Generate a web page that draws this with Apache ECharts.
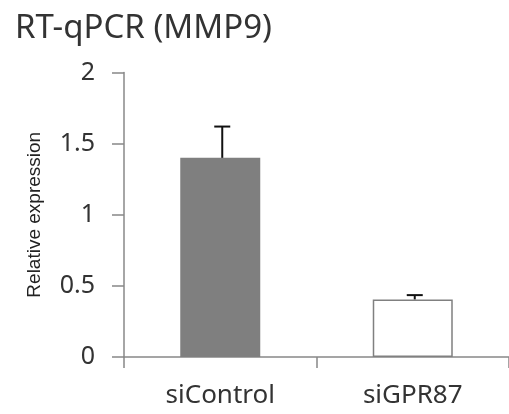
<!DOCTYPE html>
<html>
<head>
<meta charset="utf-8">
<script src="https://cdn.jsdelivr.net/npm/echarts@6/dist/echarts.min.js"></script>
<style>html,body{margin:0;padding:0;background:#fff}#c{width:509px;height:414px}</style>
</head>
<body>
<div id="c"></div>
<script>
const categories = ['siControl', 'siGPR87'];
const values = [1.4, 0.405];
const errors = [0.22, 0.03];
const yTickLabels = ['0', '0.5', '1', '1.5', '2'];
const titleText = 'RT-qPCR (MMP9)';
const yAxisName = 'Relative expression';

const barStyles = [
  { color: '#7f7f7f', borderColor: '#7f7f7f', borderWidth: 0 },
  { color: '#ffffff', borderColor: '#808080', borderWidth: 1.5 }
];

const chart = echarts.init(document.getElementById('c'), null, { renderer: 'canvas' });
chart.setOption({
  animation: false,
  backgroundColor: '#fff',
  title: {
    text: titleText,
    left: 10, top: 7,
    textStyle: { fontFamily: 'Noto Sans', fontSize: 33, fontWeight: 'normal', color: '#333' }
  },
  grid: { left: 124, right: -2, top: 72.5, bottom: 57, containLabel: false },
  xAxis: {
    type: 'category',
    data: categories,
    boundaryGap: true,
    axisLine: { lineStyle: { color: '#888', width: 1.5 } },
    axisTick: { show: true, length: 11, lineStyle: { color: '#888', width: 1.5 } },
    axisLabel: { margin: 26, fontFamily: 'Noto Sans', fontSize: 26, color: '#333' }
  },
  yAxis: {
    type: 'value',
    min: 0, max: 2, interval: 0.5,
    name: yAxisName,
    nameLocation: 'middle',
    nameRotate: 90,
    nameGap: 80,
    nameTextStyle: { fontFamily: 'Liberation Sans', fontSize: 19, color: '#222' },
    axisLine: { show: true, lineStyle: { color: '#888', width: 1.5 } },
    axisTick: { show: true, length: 12, lineStyle: { color: '#888', width: 1.5 } },
    splitLine: { show: false },
    axisLabel: {
      margin: 29, fontFamily: 'Noto Sans', fontSize: 25, color: '#333',
      formatter: (v) => yTickLabels[Math.round(v / 0.5)]
    }
  },
  series: [
    {
      type: 'bar',
      barWidth: 80,
      data: values.map((v, i) => ({ value: v, itemStyle: barStyles[i] }))
    },
    {
      type: 'custom',
      z: 10,
      data: values.map((v, i) => [i, v, errors[i]]),
      renderItem: (params, api) => {
        const i = api.value(0);
        const top = api.coord([i, api.value(1) + api.value(2)]);
        const base = api.coord([i, api.value(1)]);
        const x = top[0] + 2;
        const half = 8;
        const style = { stroke: '#111', lineWidth: 2 };
        return {
          type: 'group',
          children: [
            { type: 'line', shape: { x1: x, y1: base[1], x2: x, y2: top[1] }, style },
            { type: 'line', shape: { x1: x - half, y1: top[1], x2: x + half, y2: top[1] }, style }
          ]
        };
      }
    }
  ]
});
</script>
</body>
</html>
